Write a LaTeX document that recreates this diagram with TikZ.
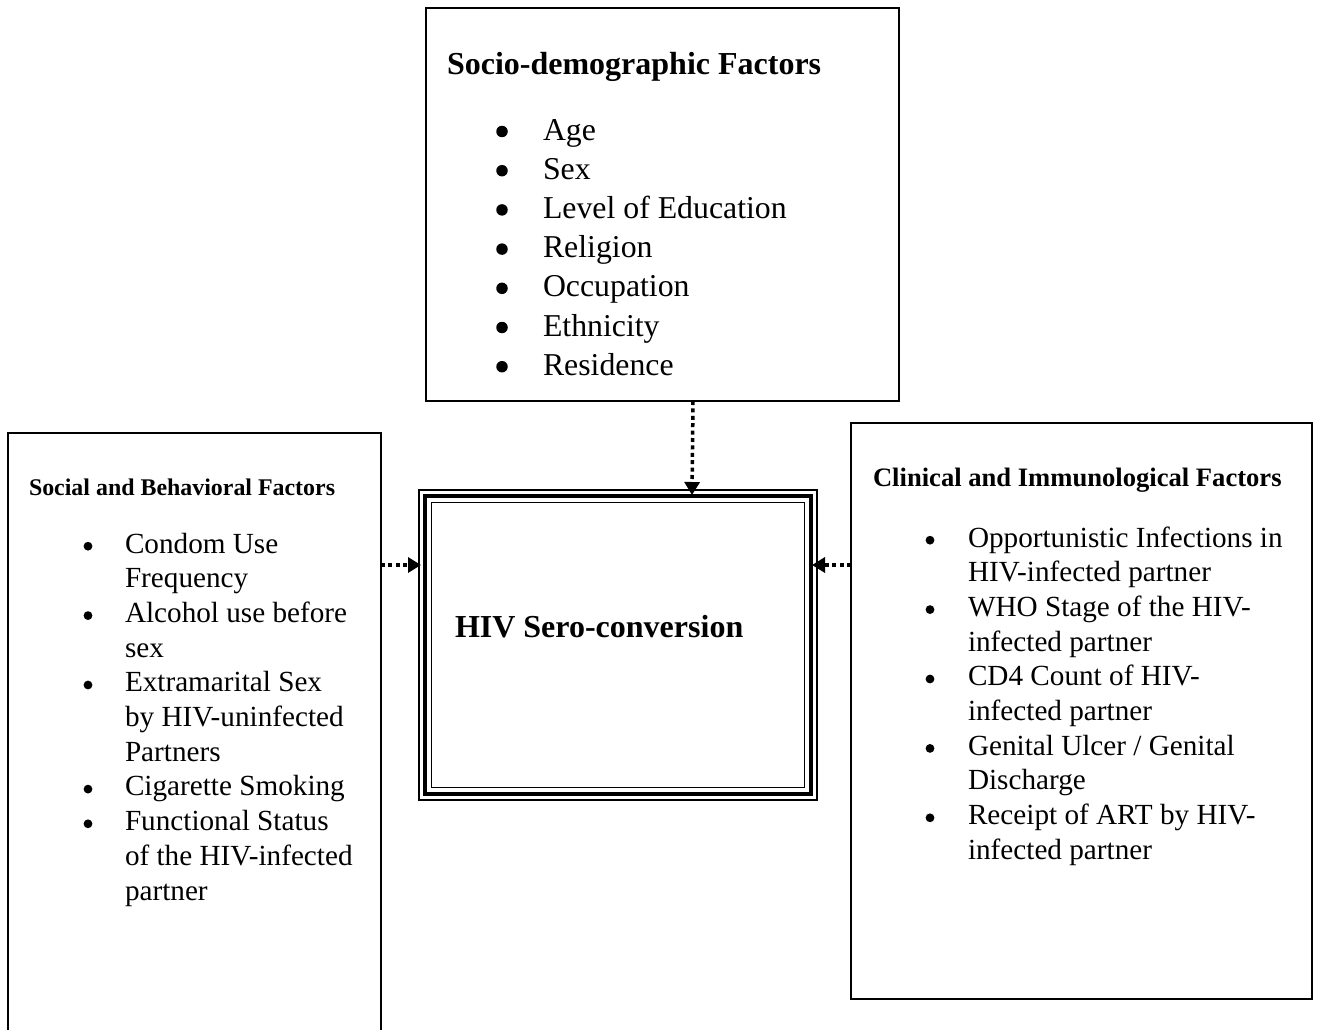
\documentclass[tikz,border=0pt]{standalone}
\usepackage{fontspec}
\setmainfont{Liberation Serif}
\usetikzlibrary{arrows.meta}
\begin{document}
\begin{tikzpicture}[x=1pt,y=1pt,
  every node/.style={inner sep=0pt, outer sep=0pt},
  box/.style={draw, line width=1.3pt, rectangle},
  bigtitle/.style={font=\fontsize{32}{39}\selectfont\bfseries, anchor=base west},
  toptxt/.style={font=\fontsize{31.8}{39}\selectfont, anchor=base west},
  sidetxt/.style={font=\fontsize{29.2}{34.7}\selectfont, anchor=base west},
  topbul/.style={circle, fill=black, minimum size=11.5pt},
  sidebul/.style={circle, fill=black, minimum size=8.8pt},
  dotarrow/.style={line width=3.5pt, dash pattern=on 4pt off 3.4pt, -{Triangle[length=13pt,width=15pt]}}
]
\useasboundingbox (0,0) rectangle (1319,-1030);

% boxes
\node[box, minimum width=473, minimum height=393, anchor=north west] (socio) at (426,-8) {};
\node[box, minimum width=373, minimum height=640, anchor=north west] (social) at (8,-433) {};
\node[box, minimum width=461, minimum height=576, anchor=north west] (clin) at (851,-423) {};
\node[draw, line width=1.2pt, minimum width=398, minimum height=310, anchor=north west] (hiv) at (419,-490) {};
\draw[line width=4.8pt] ([shift={(6pt,-6pt)}]hiv.north west) rectangle ([shift={(-6pt,6pt)}]hiv.south east);
\draw[line width=1.5pt] ([shift={(12.5pt,-12.5pt)}]hiv.north west) rectangle ([shift={(-12.5pt,12.5pt)}]hiv.south east);

% titles
\node[bigtitle] (sociot) at (447,-75) {Socio-demographic Factors};
\node[font=\fontsize{23.9}{28}\selectfont\bfseries, anchor=base west] (socialt) at (29,-495) {Social and Behavioral Factors};
\node[font=\fontsize{26.6}{30}\selectfont\bfseries, anchor=base west] (clint) at (873,-486) {Clinical and Immunological Factors};
\node[bigtitle] (hivt) at (455,-637) {HIV Sero-conversion};

% top list
\foreach \t [count=\i] in {Age,Sex,Level of Education,Religion,Occupation,Ethnicity,Residence}{
  \node[toptxt] (T\i) at (543,{-140-39.2*(\i-1)}) {\t};
  \node[topbul] (TB\i) at (502,{-131.5-39.2*(\i-1)}) {};
}

% left list
\foreach \t [count=\i] in {Condom Use,Frequency,Alcohol use before,sex,Extramarital Sex,by HIV-uninfected,Partners,Cigarette Smoking,Functional Status,of the HIV-infected,partner}{
  \node[sidetxt] (L\i) at (125,{-553-34.7*(\i-1)}) {\t};
}
\foreach \i in {1,3,5,8,9}{
  \node[sidebul] (LB\i) at (88,{-546.2-34.7*(\i-1)}) {};
}

% right list
\foreach \t [count=\i] in {Opportunistic Infections in,HIV-infected partner,WHO Stage of the HIV-,infected partner,CD4 Count of HIV-,infected partner,Genital Ulcer / Genital,Discharge,Receipt of ART by HIV-,infected partner}{
  \node[sidetxt] (R\i) at (968,{-547-34.7*(\i-1)}) {\t};
}
\foreach \i in {1,3,5,7,9}{
  \node[sidebul] (RB\i) at (930,{-540.2-34.7*(\i-1)}) {};
}

% connectors
\draw[dotarrow] ([xshift=30.5pt]socio.south) -- ([xshift=74pt,yshift=-5pt]hiv.north);
\draw[dotarrow] (social.east |- 0,-565) -- ([xshift=2pt]hiv.west |- 0,-565);
\draw[dotarrow] (clin.west |- 0,-565) -- ([xshift=-5pt]hiv.east |- 0,-565);
\end{tikzpicture}
\end{document}
